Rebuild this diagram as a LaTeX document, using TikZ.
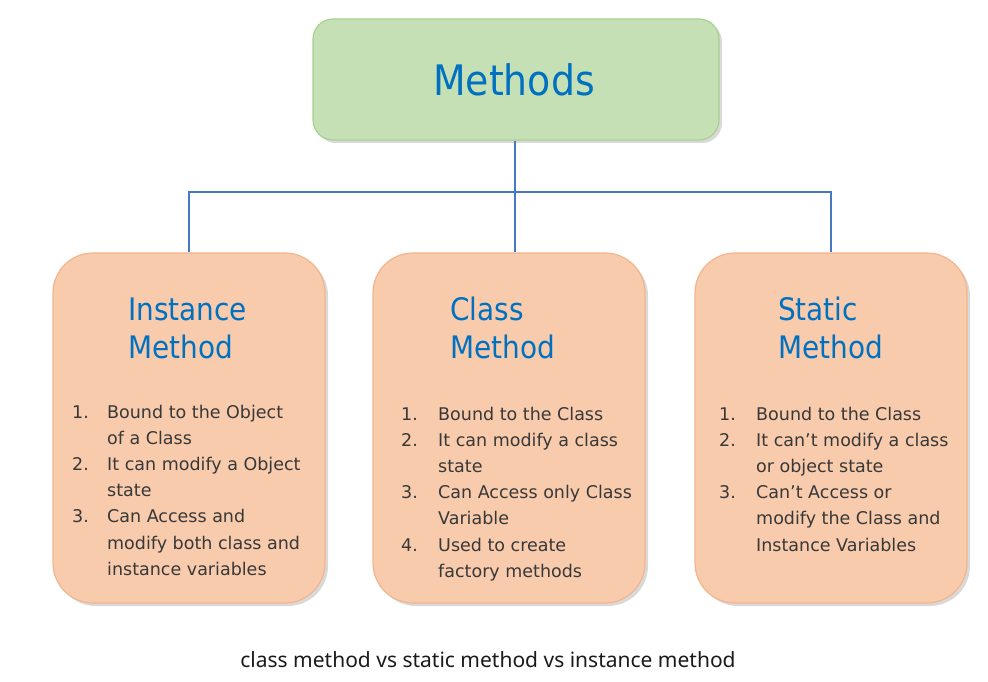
\documentclass[tikz,border=0pt]{standalone}
\usepackage{fontspec}
\setmainfont{DejaVu Sans}
\newfontfamily\titlefont{DejaVu Sans Condensed}
\newfontfamily\capfont{Noto Sans}
\usetikzlibrary{shadows}
\definecolor{ttlblue}{RGB}{0,112,192}
\definecolor{bodygray}{RGB}{56,56,56}
\definecolor{orfill}{RGB}{248,203,173}
\definecolor{ordraw}{RGB}{244,180,140}
\definecolor{grfill}{RGB}{197,224,180}
\definecolor{grdraw}{RGB}{169,209,142}
\definecolor{linkblue}{RGB}{70,120,196}
\definecolor{capcol}{RGB}{26,26,26}
\begin{document}
\begin{tikzpicture}[x=1pt,y=-1pt,
  topbox/.style={draw=grdraw, fill=grfill, line width=1.2pt, rounded corners=20pt,
    minimum width=406pt, minimum height=121pt,
    drop shadow={shadow xshift=3pt, shadow yshift=-3pt, opacity=0.3}},
  catbox/.style={draw=ordraw, fill=orfill, line width=1.2pt, rounded corners=40pt,
    minimum width=272pt, minimum height=350pt,
    drop shadow={shadow xshift=3pt, shadow yshift=-3pt, opacity=0.3}},
  link/.style={draw=linkblue, line width=2pt},
  ttl/.style={anchor=base west, inner sep=0pt, text=ttlblue,
    font=\titlefont\fontsize{31}{38.5}\selectfont},
  lst/.style={anchor=base west, inner sep=0pt, text=bodygray,
    font=\fontsize{17.5}{26.2}\selectfont},
]
\useasboundingbox (0,0) rectangle (988,682);

\coordinate (bus) at (515,192);
\node[topbox] (top) at (516,79.5) {};
\node[catbox] (inst) at (189,428) {};
\node[catbox] (cls) at (509,428) {};
\node[catbox] (stat) at (831,428) {};
\node[anchor=base, inner sep=0pt, text=ttlblue, font=\titlefont\fontsize{42}{48}\selectfont] (mt) at (514,96) {Methods};

\draw[link] (top.south -| bus) -- (bus |- cls.north);
\draw[link] (inst.north) |- (bus) -| (stat.north);

% titles
\node[ttl] (t1) at (128,320) {\begin{tabular}[t]{@{}l@{}}Instance\\Method\end{tabular}};
\node[ttl] (t2) at (450,320) {\begin{tabular}[t]{@{}l@{}}Class\\Method\end{tabular}};
\node[ttl] (t3) at (778,320) {\begin{tabular}[t]{@{}l@{}}Static\\Method\end{tabular}};

% lists
\node[lst] (l1) at (72,418) {\begin{tabular}[t]{@{}p{35pt}@{}l@{}}
1. & Bound to the Object\\
   & of a Class\\
2. & It can modify a Object\\
   & state\\
3. & Can Access and\\
   & modify both class and\\
   & instance variables
\end{tabular}};
\node[lst] (l2) at (401,420) {\begin{tabular}[t]{@{}p{37pt}@{}l@{}}
1. & Bound to the Class\\
2. & It can modify a class\\
   & state\\
3. & Can Access only Class\\
   & Variable\\
4. & Used to create\\
   & factory methods
\end{tabular}};
\node[lst] (l3) at (719,420) {\begin{tabular}[t]{@{}p{37pt}@{}l@{}}
1. & Bound to the Class\\
2. & It can’t modify a class\\
   & or object state\\
3. & Can’t Access or\\
   & modify the Class and\\
   & Instance Variables
\end{tabular}};

\node[anchor=base, inner sep=0pt, text=capcol, font=\capfont\fontsize{21}{25}\selectfont] (cap) at (488,667)
  {class method vs static method vs instance method};
\end{tikzpicture}
\end{document}
